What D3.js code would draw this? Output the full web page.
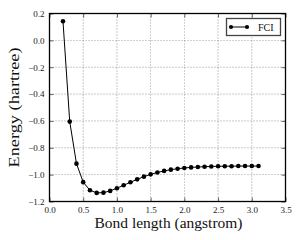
<!DOCTYPE html>
<html><head><meta charset="utf-8">
<script src="https://cdn.jsdelivr.net/npm/d3@7"></script>
<style>body{margin:0;background:#fff}svg{display:block}</style>
</head><body>
<script>
const bondLengths = [0.2,0.3,0.4,0.5,0.6,0.7,0.8,0.9,1.0,1.1,1.2,1.3,1.4,1.5,1.6,1.7,1.8,1.9,2.0,2.1,2.2,2.3,2.4,2.5,2.6,2.7,2.8,2.9,3.0,3.1];
const energies = [0.142,-0.605,-0.918,-1.056,-1.116,-1.136,-1.134,-1.121,-1.101,-1.079,-1.057,-1.035,-1.015,-0.998,-0.984,-0.972,-0.963,-0.956,-0.950,-0.946,-0.943,-0.941,-0.939,-0.938,-0.937,-0.937,-0.936,-0.936,-0.936,-0.936];
const xTicks = [0.0,0.5,1.0,1.5,2.0,2.5,3.0,3.5];
const yTicks = [0.2,0.0,-0.2,-0.4,-0.6,-0.8,-1.0,-1.2];
const seriesName = "FCI";

const W=300,H=240;
const L=49.5,R=285.5,T=13.5,B=201.5;
const font="'Liberation Serif','Times New Roman',serif";
const svg=d3.select("body").append("svg").attr("width",W).attr("height",H);
const x=d3.scaleLinear().domain([0,3.5]).range([L,R]);
const y=d3.scaleLinear().domain([-1.2,0.2]).range([B,T]);

// grid
const g=svg.append("g");
g.selectAll(".vg").data(xTicks.slice(1,-1)).enter().append("line")
 .attr("x1",d=>x(d)).attr("x2",d=>x(d)).attr("y1",T).attr("y2",B)
 .attr("stroke","#000").attr("stroke-width",0.6).attr("stroke-dasharray","1,2").attr("opacity",0.7);
g.selectAll(".hg").data(yTicks.slice(1,-1)).enter().append("line")
 .attr("y1",d=>y(d)).attr("y2",d=>y(d)).attr("x1",L).attr("x2",R)
 .attr("stroke","#000").attr("stroke-width",0.6).attr("stroke-dasharray","1,2").attr("opacity",0.7);

// axes
const xa=svg.append("g").attr("transform",`translate(0,${B})`)
 .call(d3.axisBottom(x).tickValues(xTicks).tickFormat(d3.format(".1f")).tickSizeInner(-4).tickSizeOuter(0).tickPadding(5));
const xt=svg.append("g").attr("transform",`translate(0,${T})`)
 .call(d3.axisTop(x).tickValues(xTicks).tickFormat("").tickSizeInner(-4).tickSizeOuter(0));
const ya=svg.append("g").attr("transform",`translate(${L},0)`)
 .call(d3.axisLeft(y).tickValues(yTicks).tickFormat(d=>d3.format(".1f")(d).replace("-","\u2212")).tickSizeInner(-4).tickSizeOuter(0).tickPadding(5));
const yr=svg.append("g").attr("transform",`translate(${R},0)`)
 .call(d3.axisRight(y).tickValues(yTicks).tickFormat("").tickSizeInner(-4).tickSizeOuter(0));
[xa,xt,ya,yr].forEach(a=>{a.select(".domain").remove();a.selectAll("text").attr("font-family",font).attr("font-size",9).attr("fill","#222");a.selectAll("line").attr("stroke","#000").attr("stroke-width",0.6);});

// frame
svg.append("rect").attr("x",L).attr("y",T).attr("width",R-L).attr("height",B-T)
 .attr("fill","none").attr("stroke","#000").attr("stroke-width",1.3);

// line + markers
const data=bondLengths.map((b,i)=>({b,e:energies[i]}));
svg.append("path").datum(data).attr("fill","none").attr("stroke","#000").attr("stroke-width",1)
 .attr("d",d3.line().x(d=>x(d.b)).y(d=>y(d.e)));
svg.selectAll(".pt").data(data).enter().append("circle")
 .attr("cx",d=>x(d.b)).attr("cy",d=>y(d.e)).attr("r",2.3).attr("fill","#000");

// legend
const lg=svg.append("g");
lg.append("rect").attr("x",226.5).attr("y",18.5).attr("width",54).attr("height",17)
 .attr("fill","#fff").attr("stroke","#444").attr("stroke-width",1.3);
lg.append("line").attr("x1",231).attr("x2",247).attr("y1",27).attr("y2",27).attr("stroke","#000").attr("stroke-width",1);
lg.selectAll(".lm").data([231,247]).enter().append("circle").attr("cx",d=>d).attr("cy",27).attr("r",2.1).attr("fill","#000");
lg.append("text").attr("x",258).attr("y",30.5).attr("font-family",font).attr("font-size",10).attr("fill","#111").text(seriesName);

// axis titles
svg.append("text").attr("x",(L+R)/2+1).attr("y",228).attr("text-anchor","middle")
 .attr("font-family",font).attr("font-size",15).attr("fill","#111")
 .attr("textLength",148).attr("lengthAdjust","spacingAndGlyphs").text("Bond length (angstrom)");
svg.append("text").attr("transform",`translate(19,${(T+B)/2}) rotate(-90)`).attr("text-anchor","middle")
 .attr("font-family",font).attr("font-size",15).attr("fill","#111")
 .attr("textLength",120).attr("lengthAdjust","spacingAndGlyphs").text("Energy (hartree)");
</script>
</body></html>
